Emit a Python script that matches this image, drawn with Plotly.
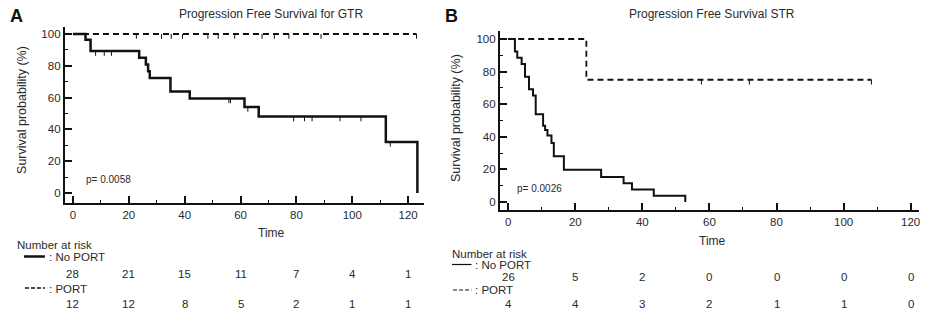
import plotly.graph_objects as go

W, H = 932, 325

# ---- Panel A: Progression free survival, GTR ----
a_noport_t = [0, 4.5, 6.3, 23.7, 26.1, 26.9, 27.5, 34.9, 41.8, 61.4, 66.5, 112.0, 123.3]
a_noport_s = [100, 96.4, 89.3, 85.0, 80.8, 76.5, 72.3, 63.8, 59.5, 54.1, 48.1, 32.1, 0]
a_noport_cens = [8.1, 11.2, 13.8, 55.8, 56.4, 62.6, 79.0, 82.9, 85.6, 95.6, 103.1, 113.6]

a_port_t = [0, 123.0]
a_port_s = [100, 100]
a_port_cens = [22.7, 31.7, 35.2, 39.2, 48.3, 52.0, 57.9, 67.7, 72.1, 77.3, 88.8, 123.0]

a_risk_times = [0, 20, 40, 60, 80, 100, 120]
a_risk_noport = [28, 21, 15, 11, 7, 4, 1]
a_risk_port = [12, 12, 8, 5, 2, 1, 1]
a_pvalue = "p= 0.0058"

# ---- Panel B: Progression free survival, STR ----
b_noport_t = [0, 2.0, 2.7, 4.0, 5.0, 6.2, 7.4, 8.2, 10.4, 11.0, 11.7, 12.9, 13.6,
              16.6, 27.7, 34.4, 36.9, 43.4, 52.8]
b_noport_s = [100, 92.3, 88.5, 84.6, 76.9, 69.2, 65.4, 53.8, 46.8, 44.2, 40.8, 36.2,
              28.0, 19.8, 15.4, 11.5, 7.7, 3.8, 0]

b_port_t = [0, 23.3, 108.3]
b_port_s = [100, 75, 75]
b_port_cens = [57.6, 71.9, 108.3]

b_risk_times = [0, 20, 40, 60, 80, 100, 120]
b_risk_noport = [26, 5, 2, 0, 0, 0, 0]
b_risk_port = [4, 4, 3, 2, 1, 1, 0]
b_pvalue = "p= 0.0026"

FONT = "Liberation Sans, Arial, sans-serif"
TXT = "#2a2a2a"
INK = "#111111"
CENS_LEN = 3.0  # length of censor ticks, in survival-% units


def px(x):
    return x / W


def py(y):
    return 1 - y / H


def step_curve(t, s, xa, ya, width, dash):
    return go.Scatter(x=t, y=s, mode="lines", line=dict(shape="hv", color=INK, width=width, dash=dash),
                      xaxis=xa, yaxis=ya, hoverinfo="skip", showlegend=False)


def censor_marks(cens, t, s, xa, ya):
    xs, ys = [], []
    for c in cens:
        # survival level in effect at time c
        lvl = s[0]
        for ti, si in zip(t, s):
            if ti <= c:
                lvl = si
        xs += [c, c, None]
        ys += [lvl, lvl - CENS_LEN, None]
    return go.Scatter(x=xs, y=ys, mode="lines", line=dict(color=INK, width=1),
                      xaxis=xa, yaxis=ya, hoverinfo="skip", showlegend=False)


fig = go.Figure()
fig.add_trace(step_curve(a_noport_t, a_noport_s, "x", "y", 2.5, "solid"))
fig.add_trace(step_curve(a_port_t, a_port_s, "x", "y", 2, "6px,4px"))
fig.add_trace(censor_marks(a_noport_cens, a_noport_t, a_noport_s, "x", "y"))
fig.add_trace(censor_marks(a_port_cens, a_port_t, a_port_s, "x", "y"))

fig.add_trace(step_curve(b_noport_t, b_noport_s, "x2", "y2", 2, "solid"))
fig.add_trace(step_curve(b_port_t, b_port_s, "x2", "y2", 1.8, "6px,4px"))
fig.add_trace(censor_marks(b_port_cens, b_port_t, b_port_s, "x2", "y2"))


def axis(domain, rng, anchor):
    return dict(domain=domain, range=rng, anchor=anchor, showline=True, linecolor=INK, linewidth=2,
                ticks="inside", ticklen=7, tickwidth=1.5, tickcolor=INK, dtick=20, tick0=0,
                minor=dict(ticks="inside", ticklen=3, tickwidth=1, tickcolor=INK, dtick=10, tick0=0),
                showgrid=False, zeroline=False, tickfont=dict(family=FONT, size=11.5, color=TXT),
                fixedrange=True)


fig.update_layout(
    width=W, height=H, margin=dict(l=0, r=0, t=0, b=0),
    paper_bgcolor="white", plot_bgcolor="white", showlegend=False,
    xaxis=axis([px(65), px(425)], [-2.9, 125.7], "y"),
    yaxis=axis([py(202.7), py(27)], [-6.1, 104.4], "x"),
    xaxis2=axis([px(501), px(920.7)], [-2.47, 122.4], "y2"),
    yaxis2=axis([py(210), py(31)], [-4.9, 104.9], "x2"),
)

ann = []


def text(x, y, s, size=11, xref="paper", yref="paper", xanchor="center", yanchor="middle",
         angle=0, bold=False, color=TXT):
    ann.append(dict(x=x, y=y, xref=xref, yref=yref, text=("<b>%s</b>" % s) if bold else s,
                    showarrow=False, xanchor=xanchor, yanchor=yanchor, textangle=angle,
                    borderpad=0, font=dict(family=FONT, size=size, color=color)))


# panel letters and titles
text(px(17), py(16), "A", size=18, bold=True, color=INK)
text(px(452), py(16), "B", size=18, bold=True, color=INK)
text(px(272), py(14), "Progression Free Survival for GTR", size=12)
text(px(714), py(14), "Progression Free Survival STR", size=12)

# axis titles
text(px(22), py(110), "Survival probability (%)", size=12.5, angle=-90)
text(px(457), py(118), "Survival probability (%)", size=12.5, angle=-90)
text(px(272), py(232.5), "Time", size=12)
text(px(714), py(240.5), "Time", size=12)

# p-values
text(4.3, 8.6, a_pvalue, size=10, xref="x", yref="y", xanchor="left")
text(2.4, 8.0, b_pvalue, size=10, xref="x2", yref="y2", xanchor="left")

# numbers at risk tables
RS = 11.5
text(px(16), py(245), "Number at risk", size=RS, xanchor="left")
text(px(48), py(257), ": No PORT", size=RS, xanchor="left")
text(px(48), py(288.5), ": PORT", size=RS, xanchor="left")
for t, n1, n2 in zip(a_risk_times, a_risk_noport, a_risk_port):
    text(t, py(273.5), str(n1), size=RS, xref="x")
    text(t, py(303.5), str(n2), size=RS, xref="x")

text(px(451.5), py(254), "Number at risk", size=RS, xanchor="left")
text(px(475), py(264.5), ": No PORT", size=RS, xanchor="left")
text(px(475), py(290), ": PORT", size=RS, xanchor="left")
for t, n1, n2 in zip(b_risk_times, b_risk_noport, b_risk_port):
    text(t, py(277), str(n1), size=RS, xref="x2")
    text(t, py(303.5), str(n2), size=RS, xref="x2")

fig.update_layout(annotations=ann)

# line samples in the risk table keys
shapes = [
    dict(type="line", xref="paper", yref="paper", x0=px(24), x1=px(45), y0=py(256.5), y1=py(256.5),
         line=dict(color=INK, width=2.5)),
    dict(type="line", xref="paper", yref="paper", x0=px(25), x1=px(45), y0=py(288), y1=py(288),
         line=dict(color=INK, width=1.5, dash="4px,2px")),
    dict(type="line", xref="paper", yref="paper", x0=px(453), x1=px(472.5), y0=py(264.5), y1=py(264.5),
         line=dict(color=INK, width=1.2)),
    dict(type="line", xref="paper", yref="paper", x0=px(454), x1=px(472.5), y0=py(290), y1=py(290),
         line=dict(color=INK, width=1.2, dash="4px,2px")),
]
fig.update_layout(shapes=shapes)

fig.write_html("out.html")
